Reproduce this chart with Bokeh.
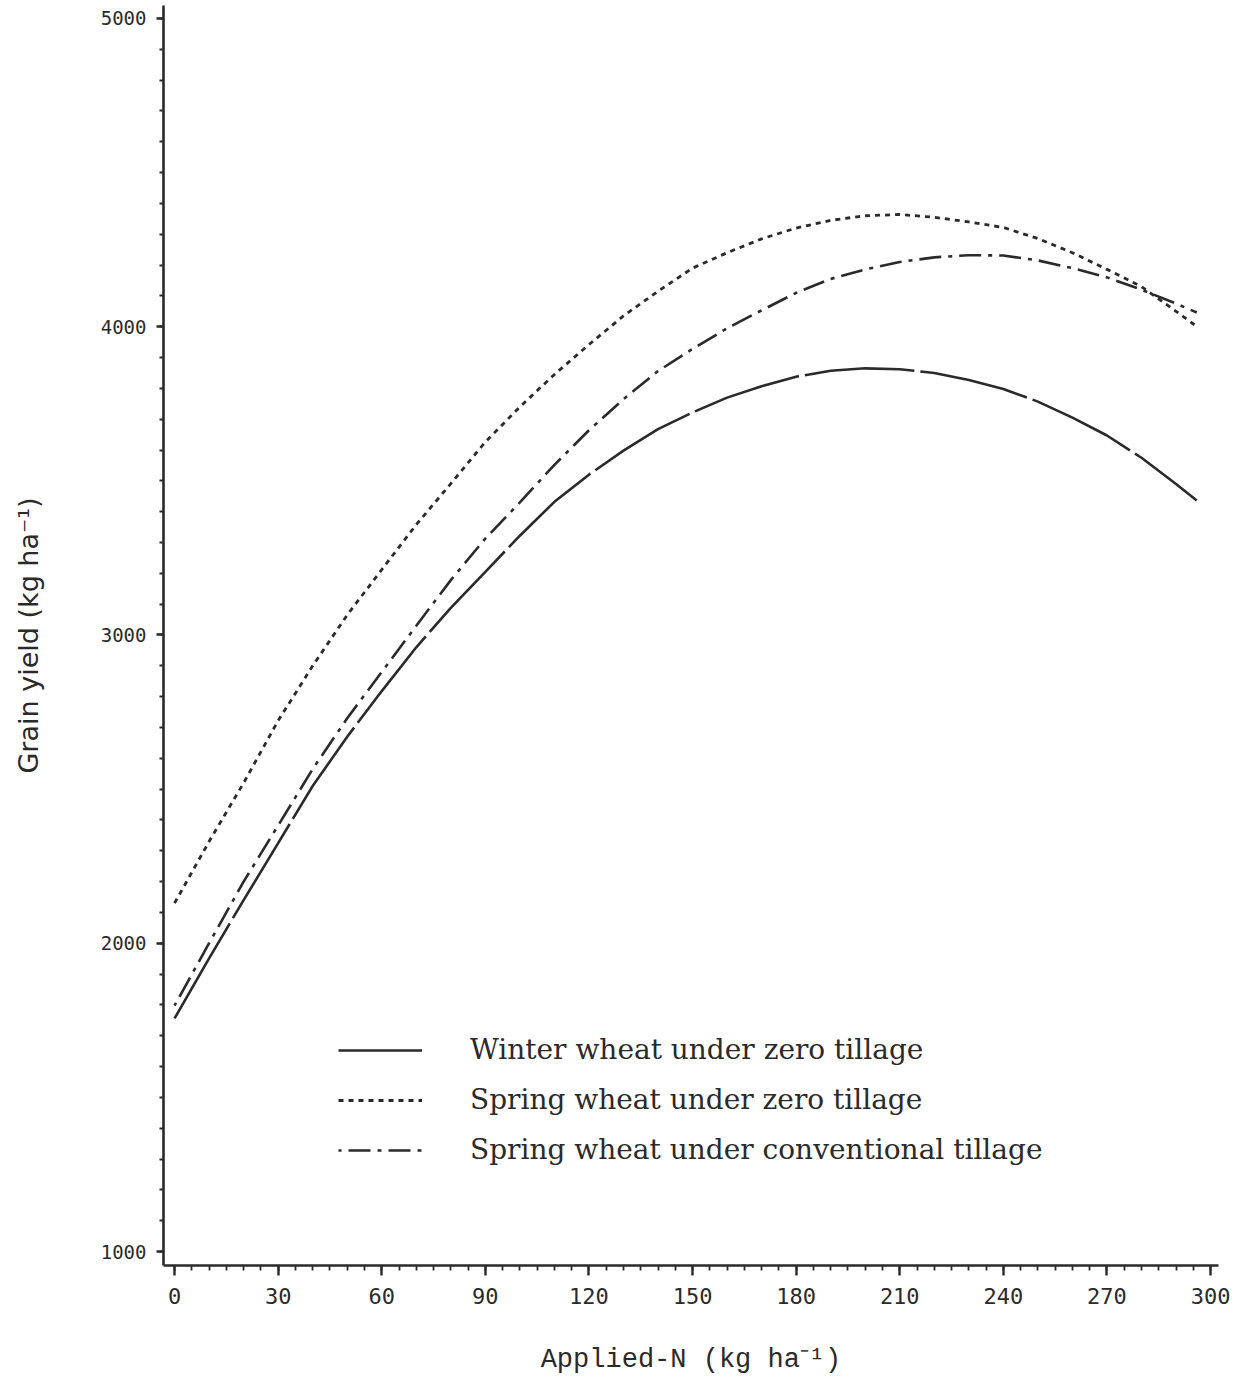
from bokeh.plotting import figure
from bokeh.models import Range1d, FixedTicker, Legend, LegendItem
from bokeh.embed import file_html
from bokeh.resources import INLINE

# Applied N (kg ha-1)
applied_n = [0, 10, 20, 30, 40, 50, 60, 70, 80, 90, 100, 110, 120, 130, 140,
             150, 160, 170, 180, 190, 200, 210, 220, 230, 240, 250, 260, 270,
             280, 290, 296]

# Grain yield (kg ha-1)
winter_zero = [1756, 1951, 2140, 2325, 2510, 2670, 2818, 2960, 3088, 3205,
               3322, 3432, 3520, 3598, 3668, 3722, 3770, 3807, 3838, 3857,
               3865, 3862, 3850, 3827, 3798, 3757, 3705, 3647, 3575, 3490,
               3436]
spring_zero = [2130, 2330, 2520, 2722, 2900, 3065, 3212, 3358, 3491, 3626,
               3740, 3845, 3942, 4035, 4115, 4190, 4240, 4285, 4320, 4345,
               4360, 4364, 4355, 4340, 4322, 4286, 4240, 4186, 4130, 4050,
               4001]
spring_conv = [1798, 2000, 2200, 2382, 2565, 2730, 2880, 3030, 3178, 3313,
               3430, 3552, 3664, 3765, 3856, 3928, 3995, 4053, 4110, 4155,
               4186, 4210, 4225, 4232, 4231, 4215, 4190, 4160, 4120, 4075,
               4046]

series_labels = ["Winter wheat under zero tillage",
                 "Spring wheat under zero tillage",
                 "Spring wheat under conventional tillage"]

x_ticks = [0, 30, 60, 90, 120, 150, 180, 210, 240, 270, 300]
y_ticks = [1000, 2000, 3000, 4000, 5000]

p = figure(width=1247, height=1381, output_backend="svg", toolbar_location=None,
           x_range=Range1d(-3.2, 302.3), y_range=Range1d(954.6, 5042))
p.min_border_left = 163
p.min_border_right = 29
p.min_border_top = 5
p.min_border_bottom = 116
p.outline_line_color = None
p.xgrid.visible = False
p.ygrid.visible = False
p.background_fill_color = "white"
p.border_fill_color = "white"

ink = "#2a2a2a"
r1 = p.line(applied_n, winter_zero, line_color=ink, line_width=2.6, line_dash="110 6")
r2 = p.line(applied_n, spring_zero, line_color=ink, line_width=2.8, line_dash="5 5")
r3 = p.line(applied_n, spring_conv, line_color=ink, line_width=2.6,
            line_dash="22 7 4 7", line_dash_offset=30)

legend = Legend(items=[LegendItem(label=series_labels[0], renderers=[r1]),
                       LegendItem(label=series_labels[1], renderers=[r2]),
                       LegendItem(label=series_labels[2], renderers=[r3])],
                location=(175, 99), glyph_width=84, glyph_height=30,
                label_height=30, spacing=17, padding=0, margin=0,
                label_standoff=48, border_line_color=None,
                background_fill_alpha=0,
                label_text_font="DejaVu Serif", label_text_font_size="28px",
                label_text_color=ink)
p.add_layout(legend, "center")

# x axis
xa = p.xaxis[0]
xa.ticker = FixedTicker(ticks=x_ticks, minor_ticks=list(range(0, 301, 5)))
xa.axis_line_width = 2.6
xa.axis_line_color = ink
xa.major_tick_in = 0
xa.major_tick_out = 10
xa.major_tick_line_width = 2.4
xa.major_tick_line_color = ink
xa.minor_tick_in = 0
xa.minor_tick_out = 5
xa.minor_tick_line_width = 1.8
xa.minor_tick_line_color = ink
xa.major_label_text_font = "DejaVu Sans Mono"
xa.major_label_text_font_size = "22px"
xa.major_label_text_color = ink
xa.major_label_standoff = 12
xa.axis_label = "Applied-N (kg ha⁻¹)"
xa.axis_label_text_font = "Liberation Mono"
xa.axis_label_text_font_size = "27px"
xa.axis_label_text_font_style = "normal"
xa.axis_label_text_color = ink
xa.axis_label_standoff = 38

# y axis
ya = p.yaxis[0]
ya.ticker = FixedTicker(ticks=y_ticks, minor_ticks=list(range(1000, 5001, 100)))
ya.axis_line_width = 2.6
ya.axis_line_color = ink
ya.major_tick_in = 0
ya.major_tick_out = 7
ya.major_tick_line_width = 2.4
ya.major_tick_line_color = ink
ya.minor_tick_in = 0
ya.minor_tick_out = 4
ya.minor_tick_line_width = 1.8
ya.minor_tick_line_color = ink
ya.major_label_text_font = "DejaVu Sans Mono"
ya.major_label_text_font_size = "19px"
ya.major_label_text_color = ink
ya.major_label_standoff = 10
ya.axis_label = "Grain yield (kg ha⁻¹)"
ya.axis_label_text_font = "DejaVu Sans"
ya.axis_label_text_font_size = "27px"
ya.axis_label_text_font_style = "normal"
ya.axis_label_text_color = ink
ya.axis_label_standoff = 54

open("out.html", "w").write(file_html(p, INLINE))
